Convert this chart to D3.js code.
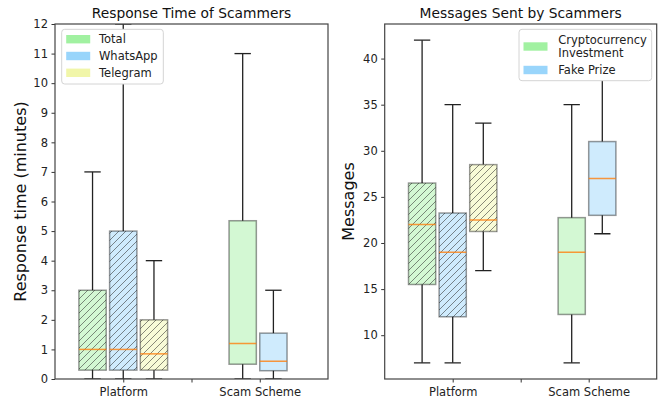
<!DOCTYPE html>
<html>
<head>
<meta charset="utf-8">
<script src="https://cdn.jsdelivr.net/npm/d3@7"></script>
<style>
  html, body { margin: 0; padding: 0; background: #fff; }
  svg { display: block; font-family: "DejaVu Sans", sans-serif; }
</style>
</head>
<body>
<svg id="chart" width="668" height="403"></svg>
<script>
// Group labels on the x axis (middle tick is left blank)
const groupLabels = ["Platform", "", "Scam Scheme"];

// Box series names
const platforms = ["Total", "WhatsApp", "Telegram"];
const schemes = ["Cryptocurrency Investment", "Fake Prize"];

// Box statistics: [lower whisker, Q1, median, Q3, upper whisker]
const responsePlatform = [
  [0, 0.3, 1.0, 3.0, 7],
  [0, 0.3, 1.0, 5.0, 12],
  [0, 0.3, 0.85, 2.0, 4]
];
const responseScheme = [
  [0, 0.5, 1.2, 5.35, 11],
  [0, 0.28, 0.6, 1.55, 3]
];
const messagesPlatform = [
  [7, 15.5, 22, 26.5, 42],
  [7, 12, 19, 23.25, 35],
  [17, 21.25, 22.5, 28.5, 33]
];
const messagesScheme = [
  [7, 12.25, 19, 22.75, 35],
  [21, 23, 27, 31, 40]
];

// Axis ticks
const responseTicks = d3.range(0, 13, 1);
const messageTicks = [10, 15, 20, 25, 30, 35, 40];

const palette = {
  green: "#90ee90",
  blue: "#87cefa",
  yellow: "#eef59a"
};
const platformColors = [palette.green, palette.blue, palette.yellow];
const schemeColors = [palette.green, palette.blue];

// Positions along the group axis
const platformPos = [0.55, 1.0, 1.45];
const schemePos = [2.75, 3.2];
const boxWidth = 0.4;
const capWidth = 0.24;

const svg = d3.select("#chart");
const defs = svg.append("defs");

// Diagonal hatching for the per-platform boxes
const hatch = defs.append("pattern")
  .attr("id", "hatch")
  .attr("patternUnits", "userSpaceOnUse")
  .attr("width", 7).attr("height", 7);
hatch.append("path")
  .attr("d", "M-1,1 l2,-2 M0,7 l7,-7 M6,8 l2,-2")
  .attr("stroke", "rgba(40,40,40,0.6)")
  .attr("stroke-width", 0.9);

function panel(opts) {
  const { x0px, x1px, y0px, y1px, yDomain, yTicks, title, yLabel, id } = opts;
  const x = d3.scaleLinear().domain([0, 4]).range([x0px, x1px]);
  const y = d3.scaleLinear().domain(yDomain).range([y1px, y0px]);
  const g = svg.append("g");

  defs.append("clipPath").attr("id", "clip-" + id)
    .append("rect")
    .attr("x", x0px).attr("y", y0px)
    .attr("width", x1px - x0px).attr("height", y1px - y0px);

  const plot = g.append("g").attr("clip-path", `url(#clip-${id})`);

  function drawBox(stats, pos, color, hatched) {
    const [lo, q1, med, q3, hi] = stats;
    const cx = x(pos);
    const bx0 = x(pos - boxWidth / 2), bx1 = x(pos + boxWidth / 2);
    const c0 = x(pos - capWidth / 2), c1 = x(pos + capWidth / 2);
    const bg = plot.append("g");
    // whiskers
    bg.append("line").attr("x1", cx).attr("x2", cx).attr("y1", y(q1)).attr("y2", y(lo))
      .attr("stroke", "#222").attr("stroke-width", 1.3);
    bg.append("line").attr("x1", cx).attr("x2", cx).attr("y1", y(q3)).attr("y2", y(hi))
      .attr("stroke", "#222").attr("stroke-width", 1.3);
    // caps
    bg.append("line").attr("x1", c0).attr("x2", c1).attr("y1", y(lo)).attr("y2", y(lo))
      .attr("stroke", "#222").attr("stroke-width", 1.3);
    bg.append("line").attr("x1", c0).attr("x2", c1).attr("y1", y(hi)).attr("y2", y(hi))
      .attr("stroke", "#222").attr("stroke-width", 1.3);
    // box body
    bg.append("rect")
      .attr("x", bx0).attr("y", y(q3))
      .attr("width", bx1 - bx0).attr("height", y(q1) - y(q3))
      .attr("fill", color).attr("fill-opacity", 0.4);
    if (hatched) {
      bg.append("rect")
        .attr("x", bx0).attr("y", y(q3))
        .attr("width", bx1 - bx0).attr("height", y(q1) - y(q3))
        .attr("fill", "url(#hatch)");
    }
    bg.append("rect")
      .attr("x", bx0).attr("y", y(q3))
      .attr("width", bx1 - bx0).attr("height", y(q1) - y(q3))
      .attr("fill", "none").attr("stroke", "rgba(0,0,0,0.4)").attr("stroke-width", 1.5);
    // median
    bg.append("line").attr("x1", bx0).attr("x2", bx1).attr("y1", y(med)).attr("y2", y(med))
      .attr("stroke", "#ff7f0e").attr("stroke-opacity", 0.8).attr("stroke-width", 1.5);
  }

  opts.platformData.forEach((s, i) => drawBox(s, platformPos[i], platformColors[i], true));
  opts.schemeData.forEach((s, i) => drawBox(s, schemePos[i], schemeColors[i], false));

  // axes
  const yAxis = d3.axisLeft(y).tickValues(yTicks).tickSize(3.5).tickPadding(3.5)
    .tickFormat(d3.format("d"));
  const yg = g.append("g").attr("transform", `translate(${x0px},0)`).call(yAxis);
  const xAxis = d3.axisBottom(x).tickValues([1, 2, 3]).tickSize(3.5).tickPadding(5)
    .tickFormat((d, i) => groupLabels[i]);
  const xg = g.append("g").attr("transform", `translate(0,${y1px})`).call(xAxis);
  [yg, xg].forEach(a => {
    a.select(".domain").remove();
    a.selectAll(".tick line").attr("stroke", "#333").attr("stroke-width", 1);
    a.selectAll(".tick text").attr("fill", "#222")
      .style("font-size", "11.5px").style("font-family", "DejaVu Sans");
  });

  // frame
  g.append("rect")
    .attr("x", x0px).attr("y", y0px)
    .attr("width", x1px - x0px).attr("height", y1px - y0px)
    .attr("fill", "none").attr("stroke", "#444").attr("stroke-width", 1.2);

  // title
  g.append("text")
    .attr("x", (x0px + x1px) / 2).attr("y", 18)
    .attr("text-anchor", "middle")
    .style("font-size", "13.8px").attr("fill", "#111")
    .text(title);

  // y label
  g.append("text")
    .attr("transform", `translate(${opts.yLabelX},${(y0px + y1px) / 2}) rotate(-90)`)
    .attr("text-anchor", "middle")
    .attr("dy", "0.35em")
    .style("font-size", "16px").attr("fill", "#111")
    .text(yLabel);

  return g;
}

function legend(g, lx, ly, w, h, entries) {
  const lg = g.append("g");
  lg.append("rect")
    .attr("x", lx).attr("y", ly).attr("width", w).attr("height", h)
    .attr("rx", 3).attr("fill", "#fff").attr("stroke", "#d4d4d4").attr("stroke-width", 1);
  entries.forEach(e => {
    lg.append("rect")
      .attr("x", lx + 4.5).attr("y", e.py - 4.2)
      .attr("width", 24).attr("height", 8.4)
      .attr("fill", e.color).attr("fill-opacity", 0.85);
    e.lines.forEach((t, k) => {
      lg.append("text")
        .attr("x", lx + e.tx).attr("y", e.ty + k * 13)
        .attr("dy", "0.35em")
        .style("font-size", "11.5px").attr("fill", "#222")
        .text(t);
    });
  });
}

const axTop = 24, axBottom = 379;

const leftPanel = panel({
  id: "rt", x0px: 55, x1px: 328, y0px: axTop, y1px: axBottom,
  yDomain: [0, 12], yTicks: responseTicks,
  title: "Response Time of Scammers",
  yLabel: "Response time (minutes)", yLabelX: 20,
  platformData: responsePlatform, schemeData: responseScheme
});
legend(leftPanel, 61.7, 29.3, 101.6, 54.7, platforms.map((p, i) => ({
  color: platformColors[i], py: 39.2 + i * 16.8, ty: 39.2 + i * 16.8, tx: 37.3, lines: [p]
})));

const rightPanel = panel({
  id: "ms", x0px: 384.7, x1px: 656.7, y0px: axTop, y1px: axBottom,
  yDomain: [5.25, 43.75], yTicks: messageTicks,
  title: "Messages Sent by Scammers",
  yLabel: "Messages", yLabelX: 348,
  platformData: messagesPlatform, schemeData: messagesScheme
});
legend(rightPanel, 519, 29.3, 132.7, 51.4, [
  { color: schemeColors[0], py: 46.5, ty: 39.6, tx: 39.3, lines: ["Cryptocurrency", "Investment"] },
  { color: schemeColors[1], py: 70, ty: 70, tx: 39.3, lines: [schemes[1]] }
]);
</script>
</body>
</html>
